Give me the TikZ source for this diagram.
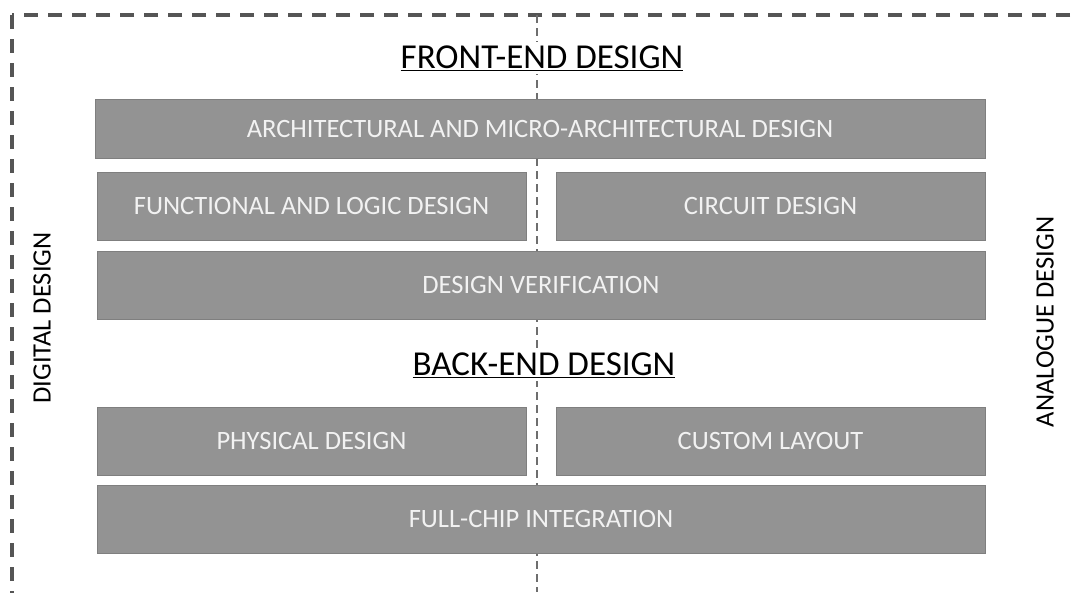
\documentclass[tikz,border=0pt]{standalone}
\usepackage{fontspec}
\setmainfont{Carlito}
\usepackage{xcolor}
\definecolor{boxgray}{HTML}{939393}
\definecolor{edgegray}{HTML}{7F7F7F}
\definecolor{framegray}{HTML}{555555}

\begin{document}
\begin{tikzpicture}[x=1pt, y=-1pt,
  stage/.style={draw=edgegray, fill=boxgray, line width=1pt, inner sep=0pt,
    text=white!95!black, font=\fontsize{26.5}{30}\selectfont},
  heading/.style={font=\fontsize{35}{40}\selectfont, text=black, fill=white, inner sep=4pt},
  side/.style={font=\fontsize{26.5}{30}\selectfont, rotate=90, text=black},
  splitline/.style={draw=framegray!85, line width=2pt, dash pattern=on 8pt off 5pt}
]
  \useasboundingbox (0,0) rectangle (1078,592);
  \clip (0,0) rectangle (1078,592);
  % outer frame
  \draw[draw=framegray, line width=3.2pt, dash pattern=on 14pt off 10pt] (12,15) rectangle (1100,620);
  \coordinate (axtop) at (537,15);
  \coordinate (axbot) at (537,592);
  \draw[splitline] (axtop) -- (axbot);

  \node[heading] (front) at (542,58) {\underline{FRONT-END DESIGN}};
  \node[heading] (back) at (544,365) {\underline{BACK-END DESIGN}};

  \node[stage, minimum width=890pt, minimum height=59pt] (arch) at (540,128.5) {ARCHITECTURAL AND MICRO-ARCHITECTURAL DESIGN};
  \node[stage, minimum width=429pt, minimum height=68pt] (logic) at (311.5,206) {FUNCTIONAL AND LOGIC DESIGN};
  \node[stage, minimum width=429pt, minimum height=68pt] (circ) at (770.5,206) {CIRCUIT DESIGN};
  \node[stage, minimum width=888pt, minimum height=68pt] (verif) at (541,285) {DESIGN VERIFICATION};
  \node[stage, minimum width=429pt, minimum height=68pt] (phys) at (311.5,441) {PHYSICAL DESIGN};
  \node[stage, minimum width=429pt, minimum height=68pt] (layout) at (770.5,441) {CUSTOM LAYOUT};
  \node[stage, minimum width=888pt, minimum height=68pt] (chip) at (541,519) {FULL-CHIP INTEGRATION};

  \node[side] (digital) at (42,318) {DIGITAL DESIGN};
  \node[side] (analogue) at (1045,322) {ANALOGUE DESIGN};
\end{tikzpicture}
\end{document}
